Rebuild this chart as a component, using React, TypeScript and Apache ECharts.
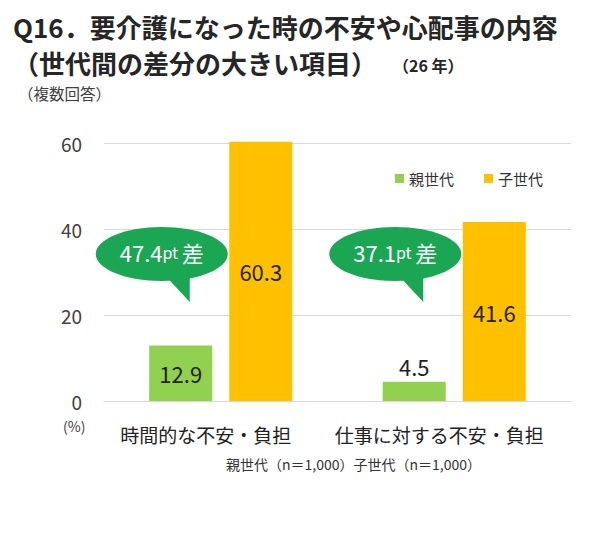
import React, { useEffect, useRef } from 'react'
import * as echarts from 'echarts'

const FONT = '"Noto Sans CJK JP", "Noto Sans", sans-serif'

// データ
const categories = ['時間的な不安・負担', '仕事に対する不安・負担']
const parentName = '親世代'
const childName = '子世代'
const parentValues = [12.9, 4.5]
const childValues = [60.3, 41.6]
const yTicks = [0, 20, 40, 60]

const titleLine1 = 'Q16．要介護になった時の不安や心配事の内容'
const titleLine2 = '（世代間の差分の大きい項目）'
const titleYear = '（26 年）'
const subTitle = '（複数回答）'
const unitLabel = '(%)'
const footnote = '親世代（n＝1,000）子世代（n＝1,000）'

// 世代間の差分
const diffs = childValues.map((v, i) => Math.round((v - parentValues[i]) * 10) / 10)

const GREEN = '#92d050'
const ORANGE = '#ffc000'
const BUBBLE = '#1aa652'

export default function App() {
  const chartRef = useRef<HTMLDivElement>(null)

  useEffect(() => {
    if (!chartRef.current) return
    const chart = echarts.init(chartRef.current, null, { renderer: 'svg' })

    const labelStyle = {
      show: true,
      fontFamily: FONT,
      fontSize: 22,
      color: '#222',
      formatter: (p: any) => p.value.toFixed(1),
    }

    // 小さい棒はラベルを上に出す
    const barData = (vals: number[]) =>
      vals.map(v => (v < 8 ? { value: v, label: { position: 'top' } } : v))

    const option = {
      animation: false,
      textStyle: { fontFamily: FONT },
      grid: { left: 104, right: 28, top: 143, bottom: 153, containLabel: false },
      legend: {
        data: [parentName, childName],
        left: 390,
        top: 166,
        icon: 'rect',
        itemWidth: 9,
        itemHeight: 9,
        itemGap: 30,
        textStyle: { fontFamily: FONT, fontSize: 15, color: '#333' },
      },
      xAxis: {
        type: 'category',
        data: categories,
        axisLine: { lineStyle: { color: '#d9d9d9' } },
        axisTick: { show: false },
        axisLabel: {
          interval: 0,
          margin: 24,
          padding: [0, 30, 0, 0],
          fontFamily: FONT,
          fontSize: 19,
          color: '#222',
        },
      },
      yAxis: {
        type: 'value',
        min: yTicks[0],
        max: yTicks[yTicks.length - 1],
        interval: yTicks[1] - yTicks[0],
        axisLine: { show: false },
        axisTick: { show: false },
        axisLabel: { margin: 22, fontFamily: FONT, fontSize: 19, color: '#404040' },
        splitLine: { lineStyle: { color: '#d9d9d9' } },
      },
      series: [
        {
          name: parentName,
          type: 'bar',
          data: barData(parentValues),
          barWidth: '27%',
          barGap: '27%',
          clip: false,
          itemStyle: { color: GREEN },
          label: { ...labelStyle, position: 'inside' },
        },
        {
          name: childName,
          type: 'bar',
          data: barData(childValues),
          barWidth: '27%',
          clip: false,
          itemStyle: { color: ORANGE },
          label: { ...labelStyle, position: 'inside' },
        },
        {
          // 差分の吹き出し
          type: 'custom',
          clip: false,
          silent: true,
          data: diffs.map((d, i) => [i, d]),
          renderItem: (params: any, api: any) => {
            const base = api.coord([api.value(0), 0])
            const cx = base[0] - 59
            const cy = base[1] - 147
            return {
              type: 'group',
              children: [
                {
                  type: 'polygon',
                  shape: { points: [[cx + 2, cy + 20], [cx + 28, cy + 18], [cx + 28, cy + 48]] },
                  style: { fill: BUBBLE },
                },
                {
                  type: 'ellipse',
                  shape: { cx, cy, rx: 66, ry: 27 },
                  style: { fill: BUBBLE },
                },
                {
                  type: 'text',
                  x: cx,
                  y: cy - 2,
                  style: {
                    text: `{a|${api.value(1).toFixed(1)}}{b|pt }{a|差}`,
                    align: 'center',
                    verticalAlign: 'middle',
                    rich: {
                      a: { fontFamily: FONT, fontSize: 22, fill: '#fff', color: '#fff' },
                      b: { fontFamily: FONT, fontSize: 16, fill: '#fff', color: '#fff' },
                    },
                  },
                },
              ],
            }
          },
        },
      ],
      graphic: [
        {
          // タイトル（2行）
          type: 'text',
          left: 13,
          top: 8,
          style: {
            text: titleLine1 + '\n' + titleLine2,
            font: `bold 26px ${FONT}`,
            lineHeight: 36,
            fill: '#262626',
          },
        },
        {
          type: 'text',
          left: 393,
          top: 57,
          style: { text: titleYear, font: `bold 16px ${FONT}`, fill: '#262626' },
        },
        {
          type: 'text',
          left: 18,
          top: 85,
          style: { text: subTitle, font: `15.5px ${FONT}`, fill: '#404040' },
        },
        {
          type: 'text',
          left: 63,
          top: 419,
          style: { text: unitLabel, font: `14px ${FONT}`, fill: '#404040' },
        },
        {
          type: 'text',
          left: 226,
          top: 457,
          style: { text: footnote, font: `14px ${FONT}`, fill: '#333' },
        },
      ],
    }

    chart.setOption(option as any)

    return () => {
      chart.dispose()
    }
  }, [])

  return (
    <div
      ref={chartRef}
      style={{ position: 'fixed', left: 0, top: 0, width: 599, height: 554, background: '#fff' }}
    />
  )
}
